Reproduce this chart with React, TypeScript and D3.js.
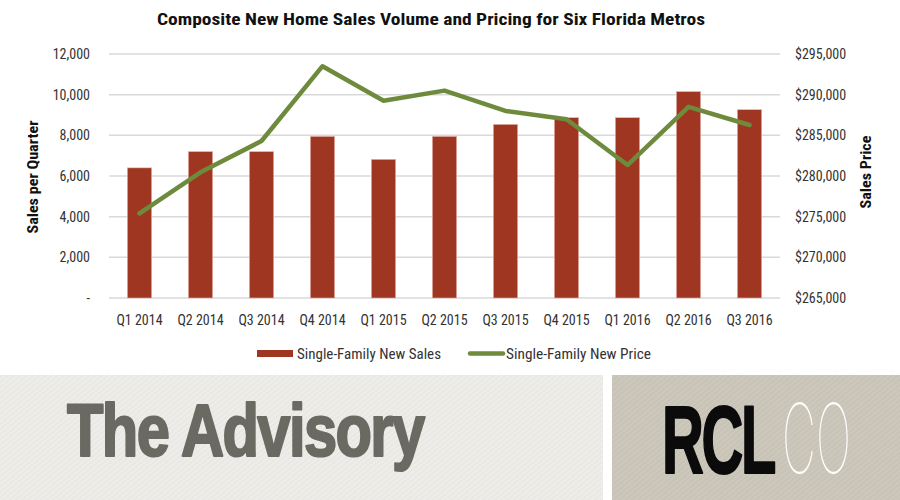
import React, { useRef, useEffect } from "react";
import * as d3 from "d3";

const quarters = [
  "Q1 2014", "Q2 2014", "Q3 2014", "Q4 2014", "Q1 2015", "Q2 2015",
  "Q3 2015", "Q4 2015", "Q1 2016", "Q2 2016", "Q3 2016",
];
const sales = [6400, 7200, 7200, 7950, 6820, 7950, 8540, 8870, 8870, 10150, 9260];
const prices = [
  275400, 280450, 284300, 293500, 289260, 290500, 288000, 286970, 281350, 288500, 286270,
];
const salesTicks = [0, 2000, 4000, 6000, 8000, 10000, 12000];
const priceTicks = [265000, 270000, 275000, 280000, 285000, 290000, 295000];

const FONT = "'Liberation Sans Narrow', 'Roboto Condensed', 'DejaVu Sans Condensed', sans-serif";
const BAR = "#9e3622";
const LINE = "#6e8b3d";

const App: React.FC = () => {
  const svg = useRef<SVGSVGElement>(null);

  useEffect(() => {
    document.body.style.margin = "0";
    const s = d3.select(svg.current);
    s.selectAll("*").remove();
    s.attr("width", 900).attr("height", 500).style("display", "block");

    const left = 109;
    const right = 780;
    const top = 54;
    const bottom = 298;

    const x = d3.scaleBand<string>().domain(quarters).range([left, right]).paddingInner(0.6).paddingOuter(0.3);
    const ySales = d3.scaleLinear().domain([0, 12000]).range([bottom, top]);
    const yPrice = d3.scaleLinear().domain([265000, 295000]).range([bottom, top]);

    s.append("rect").attr("width", 900).attr("height", 500).attr("fill", "#fff");

    // title
    s.append("text")
      .attr("x", 431)
      .attr("y", 25)
      .attr("text-anchor", "middle")
      .attr("font-family", FONT)
      .attr("font-weight", "bold")
      .attr("font-size", 16)
      .attr("textLength", 548)
      .attr("lengthAdjust", "spacingAndGlyphs")
      .attr("fill", "#111")
      .text("Composite New Home Sales Volume and Pricing for Six Florida Metros");

    // gridlines
    s.append("g")
      .selectAll("line")
      .data(salesTicks)
      .join("line")
      .attr("x1", left)
      .attr("x2", right)
      .attr("y1", (d) => ySales(d))
      .attr("y2", (d) => ySales(d))
      .attr("stroke", "#d9d9d9")
      .attr("stroke-width", 1.5);

    // left axis labels
    s.append("g")
      .selectAll("text")
      .data(salesTicks)
      .join("text")
      .attr("x", 90)
      .attr("y", (d) => ySales(d) + 5)
      .attr("text-anchor", "end")
      .attr("font-family", FONT)
      .attr("font-size", 14)
      .attr("fill", "#333")
      .text((d) => (d === 0 ? "-" : d3.format(",")(d)));

    // right axis labels
    s.append("g")
      .selectAll("text")
      .data(priceTicks)
      .join("text")
      .attr("x", 795)
      .attr("y", (d) => yPrice(d) + 5)
      .attr("font-family", FONT)
      .attr("font-size", 14)
      .attr("fill", "#333")
      .text((d) => "$" + d3.format(",")(d));

    // axis titles
    s.append("text")
      .attr("transform", "translate(38,177) rotate(-90)")
      .attr("text-anchor", "middle")
      .attr("font-family", FONT)
      .attr("font-weight", "bold")
      .attr("font-size", 15)
      .attr("textLength", 113)
      .attr("lengthAdjust", "spacingAndGlyphs")
      .attr("fill", "#111")
      .text("Sales per Quarter");
    s.append("text")
      .attr("transform", "translate(871,172) rotate(-90)")
      .attr("text-anchor", "middle")
      .attr("font-family", FONT)
      .attr("font-weight", "bold")
      .attr("font-size", 15)
      .attr("textLength", 73)
      .attr("lengthAdjust", "spacingAndGlyphs")
      .attr("fill", "#111")
      .text("Sales Price");

    // bars
    s.append("g")
      .selectAll("rect")
      .data(sales)
      .join("rect")
      .attr("x", (_, i) => x(quarters[i])!)
      .attr("width", x.bandwidth())
      .attr("y", (d) => ySales(d))
      .attr("height", (d) => bottom - ySales(d))
      .attr("fill", BAR)
      .attr("stroke", "#e8b9ae")
      .attr("stroke-width", 0.6);

    // price line
    const line = d3
      .line<number>()
      .x((_, i) => x(quarters[i])! + x.bandwidth() / 2)
      .y((d) => yPrice(d));
    s.append("path")
      .datum(prices)
      .attr("d", line)
      .attr("fill", "none")
      .attr("stroke", LINE)
      .attr("stroke-width", 4.5)
      .attr("stroke-linecap", "round")
      .attr("stroke-linejoin", "round");

    // x labels
    s.append("g")
      .selectAll("text")
      .data(quarters)
      .join("text")
      .attr("x", (d) => x(d)! + x.bandwidth() / 2)
      .attr("y", 325)
      .attr("text-anchor", "middle")
      .attr("font-family", FONT)
      .attr("font-size", 14)
      .attr("fill", "#333")
      .text((d) => d);

    // legend
    const lg = s.append("g").attr("font-family", FONT).attr("font-size", 15).attr("fill", "#333");
    lg.append("rect").attr("x", 257).attr("y", 350).attr("width", 36).attr("height", 7).attr("fill", BAR);
    lg.append("text").attr("x", 297).attr("y", 359).attr("textLength", 144).attr("lengthAdjust", "spacingAndGlyphs").text("Single-Family New Sales");
    lg.append("line")
      .attr("x1", 470).attr("x2", 503).attr("y1", 353.5).attr("y2", 353.5)
      .attr("stroke", LINE).attr("stroke-width", 4.5).attr("stroke-linecap", "round");
    lg.append("text").attr("x", 506).attr("y", 359).attr("textLength", 145).attr("lengthAdjust", "spacingAndGlyphs").text("Single-Family New Price");

    // banner
    const defs = s.append("defs");
    const mk = (id: string, bg: string, ln: string, op: number) => {
      const p = defs.append("pattern")
        .attr("id", id)
        .attr("patternUnits", "userSpaceOnUse")
        .attr("width", 4)
        .attr("height", 4)
        .attr("patternTransform", "rotate(-40)");
      p.append("rect").attr("width", 4).attr("height", 4).attr("fill", bg);
      p.append("line").attr("x1", 0).attr("x2", 4).attr("y1", 1).attr("y2", 1)
        .attr("stroke", ln).attr("stroke-width", 1).attr("opacity", op);
    };
    mk("texL", "#eeede9", "#dcd9d2", 0.5);
    mk("texR", "#cdc8bc", "#b8b2a5", 0.45);

    s.append("rect").attr("x", 0).attr("y", 375).attr("width", 603).attr("height", 125).attr("fill", "url(#texL)");
    s.append("rect").attr("x", 612).attr("y", 375).attr("width", 288).attr("height", 125).attr("fill", "url(#texR)");

    // squeeze a text horizontally so that it spans `width` px from x
    const fit = (
      txt: string, tx: number, ty: number, width: number, size: number,
      family: string, weight: string | number, fill: string, stroke = 0, spacing = 0
    ) => {
      const g = s.append("g");
      const t = g.append("text")
        .attr("font-family", family)
        .attr("font-weight", weight)
        .attr("font-size", size)
        .attr("letter-spacing", spacing)
        .attr("fill", fill)
        .text(txt);
      if (stroke > 0) t.attr("stroke", fill).attr("stroke-width", stroke).attr("stroke-linejoin", "round");
      const w = (t.node() as SVGTextElement).getBBox().width || width;
      g.attr("transform", `translate(${tx},${ty}) scale(${width / w},1)`);
    };

    fit("The Advisory", 67, 456, 358, 74, "'Liberation Sans', Arial, sans-serif", "bold", "#6a6a62", 2.2, -2);
    fit("RCL", 662, 473, 113, 97, "'Liberation Sans', Arial, sans-serif", "bold", "#0b0b0b", 2, -4);
    fit("CO", 782, 473, 69, 96, "Inter, 'DejaVu Sans', sans-serif", 100, "#ffffff");
  }, []);

  return <svg ref={svg}></svg>;
};

export default App;
